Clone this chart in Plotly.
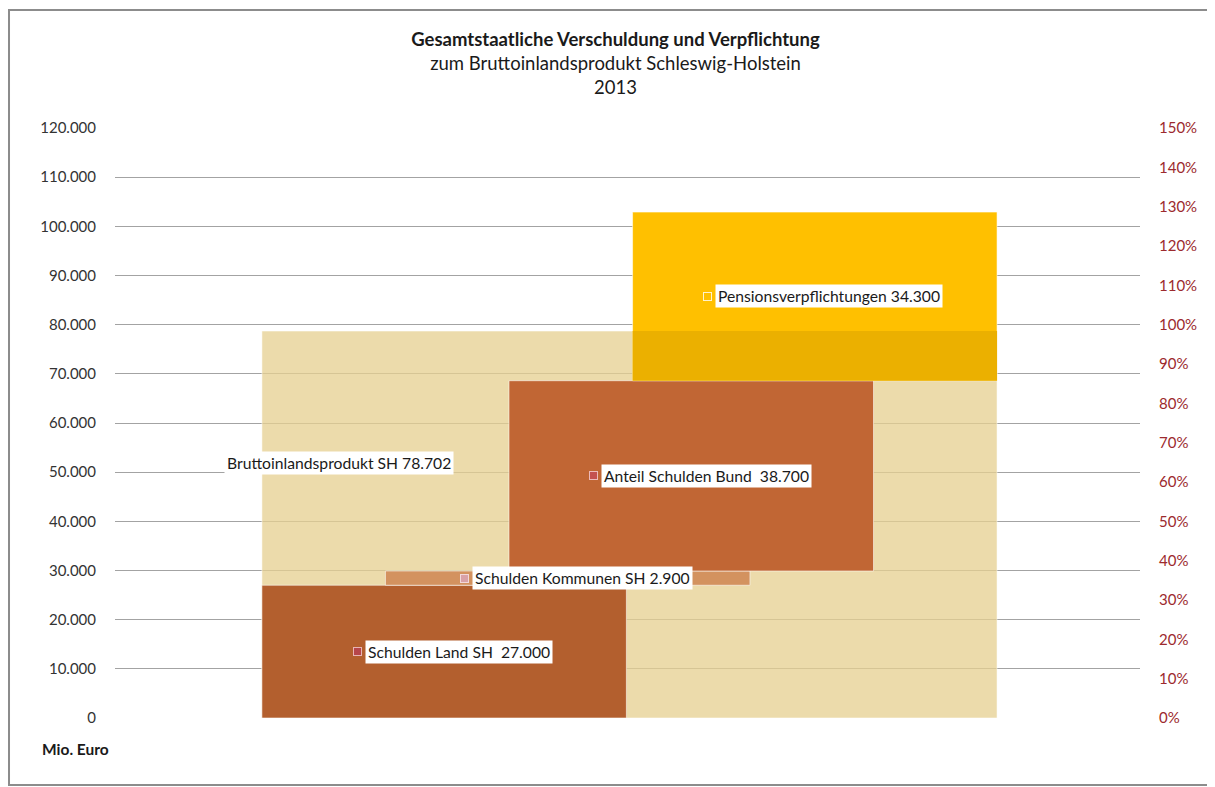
import plotly.graph_objects as go

# Werte in Mio. Euro (Schleswig-Holstein 2013)
bip_label = "Bruttoinlandsprodukt SH 78.702"
bip_wert = 78702

posten = ["Schulden Land SH", "Schulden Kommunen SH", "Anteil Schulden Bund", "Pensionsverpflichtungen"]
werte = [27000, 2900, 38700, 34300]
wert_text = [" 27.000", "2.900", " 38.700", "34.300"]

y_ticks = [0, 10000, 20000, 30000, 40000, 50000, 60000, 70000, 80000, 90000, 100000, 110000, 120000]
pct_ticks = [0, 0.1, 0.2, 0.3, 0.4, 0.5, 0.6, 0.7, 0.8, 0.9, 1.0, 1.1, 1.2, 1.3, 1.4, 1.5]

farben = ["#B35F2E", "#D3925F", "#C16634", "#FFC000"]
marker_farben = ["#B6464A", "#D9A2A8", "#C4504F", "#FFC000"]
rand_farben = ["#E8B4B4", "#F2D8DA", "#EDB9B9", "#FFF2CC"]
label_breite = [183, 215, 205, 224]   # ungefähre Breite der Beschriftungsboxen in px (Stil)

FONT = "Lato"
bw = 2.95            # Breite der Teilbalken (in Positionseinheiten)
pos = [0, 1, 2, 3]   # Positionen der Teilbalken

# Basis jedes Balkens = Summe der vorherigen
basen = []
s = 0
for w in werte:
    basen.append(s)
    s += w

fig = go.Figure()

# BIP-Fläche hinter allem
fig.add_trace(go.Bar(x=[(pos[0] + pos[-1]) / 2], y=[bip_wert], base=[0], width=[pos[-1] - pos[0] + bw],
                     marker=dict(color="rgba(230,208,145,0.76)", line=dict(color="rgba(255,255,255,0.5)", width=1)),
                     hoverinfo="skip", showlegend=False))

for i in range(len(posten)):
    fig.add_trace(go.Bar(x=[pos[i]], y=[werte[i]], base=[basen[i]], width=[bw],
                         marker=dict(color=farben[i], line=dict(color="rgba(255,255,255,0.55)", width=1)),
                         hoverinfo="skip", showlegend=False))

# Überlappung Pensionsbalken / BIP etwas dunkler
over_base = basen[3]
if bip_wert > over_base:
    fig.add_trace(go.Bar(x=[pos[3]], y=[bip_wert - over_base], base=[over_base], width=[bw],
                         marker=dict(color="#EBB000", line=dict(width=0)),
                         hoverinfo="skip", showlegend=False))

# unsichtbare Spur für die rechte Achse
fig.add_trace(go.Scatter(x=[pos[0]], y=[0], yaxis="y2", mode="markers",
                         marker=dict(opacity=0), hoverinfo="skip", showlegend=False))

# Datenbeschriftungen mit Legendensymbol
annots = []
for i in range(len(posten)):
    txt = posten[i] + " " + wert_text[i]
    off = label_breite[i] / 2 - 12
    ym = basen[i] + werte[i] / 2
    annots.append(dict(x=pos[i], y=ym, xref="x", yref="y", text=txt, showarrow=False,
                       xanchor="left", xshift=-off, bgcolor="white", borderpad=2,
                       font=dict(family=FONT, size=15.7, color="#1a1a1a")))
    annots.append(dict(x=pos[i], y=ym, xref="x", yref="y", text="", showarrow=False,
                       xanchor="right", xshift=-off - 3, width=7, height=7,
                       bgcolor=marker_farben[i], bordercolor=rand_farben[i], borderwidth=1, borderpad=0))

annots.append(dict(x=-0.85, y=51900, xref="x", yref="y", text=bip_label, showarrow=False,
                   xanchor="center", bgcolor="white", borderpad=2,
                   font=dict(family=FONT, size=15.7, color="#1a1a1a")))

annots.append(dict(x=0, y=0, xref="paper", yref="paper", text="<b>Mio. Euro</b>", showarrow=False,
                   xanchor="right", yanchor="top", xshift=-4, yshift=-20,
                   font=dict(family=FONT, size=15.5, color="#1a1a1a")))

# Seite hat 8px Rand -> Ränder entsprechend verschoben
fig.update_layout(
    width=1215, height=787,
    margin=dict(l=107, r=83, t=120, b=77),
    paper_bgcolor="white", plot_bgcolor="white",
    separators=",.",
    barmode="overlay",
    title=dict(text="<b>Gesamtstaatliche Verschuldung und Verpflichtung</b><br>zum Bruttoinlandsprodukt Schleswig-Holstein<br>2013",
               x=0.5, xanchor="center", y=0.952, yanchor="top",
               font=dict(family=FONT, size=18.5, color="#1a1a1a")),
    xaxis=dict(range=[-2.664, 5.632], showgrid=False, showticklabels=False, zeroline=False, showline=False,
               fixedrange=True),
    yaxis=dict(range=[0, 120000], tickvals=y_ticks, tickformat=",d", showgrid=True, gridcolor="#A3A3A3",
               gridwidth=1, zeroline=False, showline=False, ticks="", ticklabelstandoff=18,
               tickfont=dict(family=FONT, size=15, color="#333333")),
    yaxis2=dict(range=[0, 1.5], overlaying="y", side="right", tickvals=pct_ticks, tickformat=".0%",
                showgrid=False, zeroline=False, showline=False, ticks="", ticklabelstandoff=18,
                tickfont=dict(family=FONT, size=15, color="#9C2A2E")),
    annotations=annots,
    shapes=[dict(type="rect", xref="paper", yref="paper", x0=-0.1034, x1=1.0712, y0=-0.1136, y1=1.2,
                 line=dict(color="#8C8C8C", width=2), fillcolor="rgba(0,0,0,0)", layer="below")],
)

fig.write_html("out.html")
